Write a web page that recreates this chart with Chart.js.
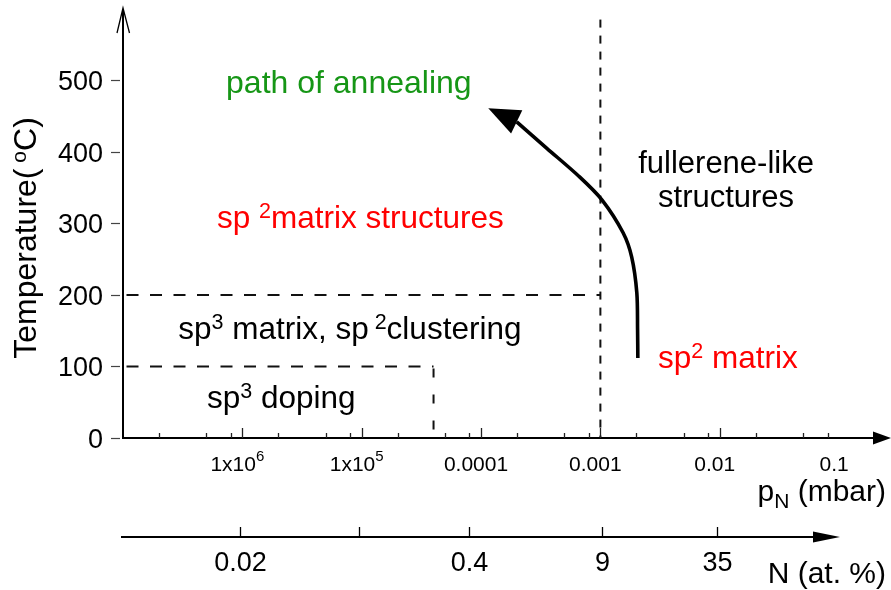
<!DOCTYPE html>
<html>
<head>
<meta charset="utf-8">
<title>Carbon nitride structure vs. temperature and nitrogen pressure</title>
<script src="https://cdn.jsdelivr.net/npm/chart.js@4/dist/chart.umd.min.js"></script>
<style>
  html, body { margin: 0; padding: 0; background: #fff; }
  #wrap { width: 891px; height: 590px; }
</style>
</head>
<body>
<div id="wrap"><canvas id="chart" width="891" height="590"></canvas></div>
<script>
// ---- axis ticks ----
const tempTicks = [0, 100, 200, 300, 400, 500];
const pressureTicks = [1e-6, 1e-5, 1e-4, 1e-3, 1e-2, 1e-1];
const pressureTickLabels = ['1x10{6}', '1x10{5}', '0.0001', '0.001', '0.01', '0.1'];
const pressureMinorFactors = [2, 5, 8];
// nitrogen content (at. %) reached at a given N2 pressure
const nitrogenTickPressure = [9.5e-7, 9.5e-6, 8e-5, 1.03e-3, 9.5e-3];
const nitrogenTickLabels = ['0.02', '', '0.4', '9', '35'];

// ---- region boundaries ----
const sp3MatrixTopTemp = 200;     // upper limit of sp3 matrix region (°C)
const dopingTopTemp = 100;        // upper limit of sp3 doping region (°C)
const dopingEdgePressure = 4e-5;  // pressure limit of sp3 doping (mbar)
const sp2EdgePressure = 1e-3;     // onset of sp2 / fullerene-like growth (mbar)
const sp2EdgeTopTemp = 585;

// ---- annealing path (pressure mbar, temperature °C) ----
const annealPressure = [2.06e-3, 2.05e-3, 2.02e-3, 1.83e-3, 1.55e-3, 1.03e-3, 6.6e-4, 3.56e-4, 1.99e-4];
const annealTemp     = [112,     151,     203,     253,     287,     333,     366,     405,     442];
const annealTip = { p: 1.15e-4, t: 461 };

// ---- region labels ("{..}" superscript) ----
const regionTexts = [
  'path of annealing',
  'sp {2}matrix structures',
  'fullerene-like',
  'structures',
  'sp{3} matrix, sp{ 2}clustering',
  'sp{3} doping',
  'sp{2} matrix'
];

const FONT = '"Liberation Sans", Arial, Helvetica, sans-serif';
const GREEN = '#169616';
const RED = '#ff0000';

// where each region label sits (pressure, temperature of its baseline)
const regionPlacement = [
  { p: 7.3e-7,  t: 482,   align: 'left',   color: GREEN, size: 32 },
  { p: 6.13e-7, t: 293.6, align: 'left',   color: RED,   size: 31.5 },
  { p: 1.13e-2, t: 370.5, align: 'center', color: '#000', size: 31 },
  { p: 1.13e-2, t: 323,   align: 'center', color: '#000', size: 31 },
  { p: 2.9e-7,  t: 138.4, align: 'left',   color: '#000', size: 31.5 },
  { p: 5.06e-7, t: 41.9,  align: 'left',   color: '#000', size: 31.5 },
  { p: 3.04e-3, t: 97.9,  align: 'left',   color: RED,   size: 31.5 }
];

function parseRuns(str) {
  const runs = [];
  const re = /\{([^}]*)\}|\[([^\]]*)\]|([^{\[]+)/g;
  let m;
  while ((m = re.exec(str))) {
    if (m[1] !== undefined) runs.push({ text: m[1], kind: 'sup' });
    else if (m[2] !== undefined) runs.push({ text: m[2], kind: 'sub' });
    else runs.push({ text: m[3], kind: 'base' });
  }
  return runs;
}

// text with superscripts "{..}" and subscripts "[..]"
function drawRich(ctx, str, x, y, opt) {
  const size = opt.size;
  const small = opt.small || Math.round(size * 0.65);
  const raise = opt.raise != null ? opt.raise : size * 0.3;
  const drop = opt.drop != null ? opt.drop : size * 0.22;
  const runs = parseRuns(str);
  let total = 0;
  runs.forEach(r => {
    r.size = r.kind === 'base' ? size : small;
    ctx.font = r.size + 'px ' + FONT;
    r.w = ctx.measureText(r.text).width;
    total += r.w;
  });
  let cx = opt.align === 'center' ? x - total / 2 : opt.align === 'right' ? x - total : x;
  ctx.fillStyle = opt.color || '#000';
  ctx.textAlign = 'left';
  ctx.textBaseline = 'alphabetic';
  runs.forEach(r => {
    ctx.font = r.size + 'px ' + FONT;
    const dy = r.kind === 'sup' ? -raise : r.kind === 'sub' ? drop : 0;
    ctx.fillText(r.text, cx, y + dy);
    cx += r.w;
  });
}

function seg(ctx, x1, y1, x2, y2) {
  ctx.beginPath(); ctx.moveTo(x1, y1); ctx.lineTo(x2, y2); ctx.stroke();
}

function filledArrowRight(ctx, baseX, tipX, yy, half) {
  ctx.beginPath();
  ctx.moveTo(tipX, yy);
  ctx.lineTo(baseX, yy - half);
  ctx.lineTo(baseX, yy + half);
  ctx.closePath();
  ctx.fill();
}

const decorPlugin = {
  id: 'phaseDecor',
  afterDatasetsDraw(chart) {
    const { ctx, chartArea: a, scales: { x, y } } = chart;
    ctx.save();

    // arrowhead at the end of the annealing path
    const meta = chart.getDatasetMeta(0);
    const last = meta.data[meta.data.length - 1];
    const tx = x.getPixelForValue(annealTip.p), ty = y.getPixelForValue(annealTip.t);
    const dx = tx - last.x, dy = ty - last.y, len = Math.hypot(dx, dy);
    const nx = -dy / len, ny = dx / len, half = 13;
    ctx.fillStyle = '#000';
    ctx.beginPath();
    ctx.moveTo(tx, ty);
    ctx.lineTo(last.x + nx * half, last.y + ny * half);
    ctx.lineTo(last.x - nx * half, last.y - ny * half);
    ctx.closePath();
    ctx.fill();

    // region labels
    regionTexts.forEach((txt, i) => {
      const pl = regionPlacement[i];
      drawRich(ctx, txt, x.getPixelForValue(pl.p), y.getPixelForValue(pl.t),
        { size: pl.size, small: 21.5, raise: 10, align: pl.align, color: pl.color });
    });

    const x0 = a.left, y0 = y.getPixelForValue(0);

    // temperature axis with open arrow
    ctx.strokeStyle = '#000';
    ctx.lineWidth = 2;
    seg(ctx, x0, y0 + 1, x0, 9);
    ctx.lineWidth = 1.3;
    ctx.beginPath();
    ctx.moveTo(x0 - 6, 33); ctx.lineTo(x0, 8); ctx.lineTo(x0 + 6.5, 33);
    ctx.stroke();

    // temperature ticks and labels
    ctx.strokeStyle = '#444';
    ctx.lineWidth = 1.2;
    tempTicks.forEach(t => {
      const py = Math.round(y.getPixelForValue(t)) + 0.5;
      seg(ctx, x0 - 12, py, x0 - 3, py);
      drawRich(ctx, String(t), x0 - 20, py + 9.5, { size: 27, align: 'right' });
    });

    // pressure axis with filled arrow
    ctx.strokeStyle = '#000';
    ctx.fillStyle = '#000';
    ctx.lineWidth = 2;
    seg(ctx, x0 - 1, y0, 875, y0);
    filledArrowRight(ctx, 873, 891, y0, 6.5);

    // pressure ticks (pointing into the plot)
    ctx.lineWidth = 1.3;
    ctx.strokeStyle = '#222';
    pressureTicks.forEach(p => {
      if (p >= 0.1) return;
      const px = Math.round(x.getPixelForValue(p)) + 0.5;
      seg(ctx, px, y0, px, y0 - 10);
    });
    for (let dec = -7; dec <= -2; dec++) {
      pressureMinorFactors.forEach(f => {
        const px = Math.round(x.getPixelForValue(f * Math.pow(10, dec))) + 0.5;
        seg(ctx, px, y0, px, y0 - 5);
      });
    }
    pressureTicks.forEach((p, i) => {
      drawRich(ctx, pressureTickLabels[i], x.getPixelForValue(p) - 5, 471,
        { size: 21, small: 15, raise: 10, align: 'center' });
    });
    drawRich(ctx, 'p[N] (mbar)', 886, 501, { size: 30, small: 21, drop: 7, align: 'right' });

    // nitrogen content axis
    const yN = 537;
    ctx.lineWidth = 2;
    ctx.strokeStyle = '#000';
    seg(ctx, 121, yN, 815, yN);
    filledArrowRight(ctx, 813, 840, yN, 5.5);
    ctx.lineWidth = 1.3;
    nitrogenTickPressure.forEach((p, i) => {
      const px = Math.round(x.getPixelForValue(p)) + 0.5;
      seg(ctx, px, yN, px, yN - 10);
      if (nitrogenTickLabels[i]) {
        drawRich(ctx, nitrogenTickLabels[i], px, 571, { size: 27, align: 'center' });
      }
    });
    drawRich(ctx, 'N (at. %)', 886, 583, { size: 30, align: 'right' });

    // temperature axis title
    ctx.save();
    ctx.translate(36, 238);
    ctx.rotate(-Math.PI / 2);
    drawRich(ctx, 'Temperature({ o}C)', 0, 0, { size: 32, small: 21, raise: 10, align: 'center' });
    ctx.restore();

    ctx.restore();
  }
};

const pathData = annealPressure.map((p, i) => ({ x: p, y: annealTemp[i] }));
const dashStyle = { borderColor: '#111', borderWidth: 2, pointRadius: 0, showLine: true, fill: false, tension: 0 };

new Chart(document.getElementById('chart'), {
  type: 'scatter',
  data: {
    datasets: [
      { label: 'path of annealing', data: pathData, borderColor: '#000', borderWidth: 3.6,
        pointRadius: 0, showLine: true, fill: false, tension: 0.3, borderCapStyle: 'butt' },
      Object.assign({ label: 'sp3 matrix limit',
        data: [{ x: 1.07e-7, y: sp3MatrixTopTemp }, { x: sp2EdgePressure, y: sp3MatrixTopTemp }],
        borderDash: [12, 11.5] }, dashStyle),
      Object.assign({ label: 'sp3 doping limit',
        data: [{ x: 1.07e-7, y: dopingTopTemp }, { x: dopingEdgePressure, y: dopingTopTemp }],
        borderDash: [12, 11.5] }, dashStyle),
      Object.assign({ label: 'sp3 doping pressure limit',
        data: [{ x: dopingEdgePressure, y: dopingTopTemp - 3 }, { x: dopingEdgePressure, y: 0 }],
        borderDash: [9, 17] }, dashStyle),
      Object.assign({ label: 'sp2 onset',
        data: [{ x: sp2EdgePressure, y: sp2EdgeTopTemp }, { x: sp2EdgePressure, y: 0 }],
        borderDash: [8, 8] }, dashStyle)
    ]
  },
  options: {
    responsive: false,
    animation: false,
    devicePixelRatio: 1,
    layout: { padding: { left: 123, right: 16, top: 16, bottom: 152 } },
    scales: {
      x: { type: 'logarithmic', min: 1e-7, max: 0.2, display: false },
      y: { type: 'linear', min: 0, max: 590, display: false }
    },
    plugins: { legend: { display: false }, tooltip: { enabled: false } },
    elements: { point: { radius: 0 } }
  },
  plugins: [decorPlugin]
});
</script>
</body>
</html>
